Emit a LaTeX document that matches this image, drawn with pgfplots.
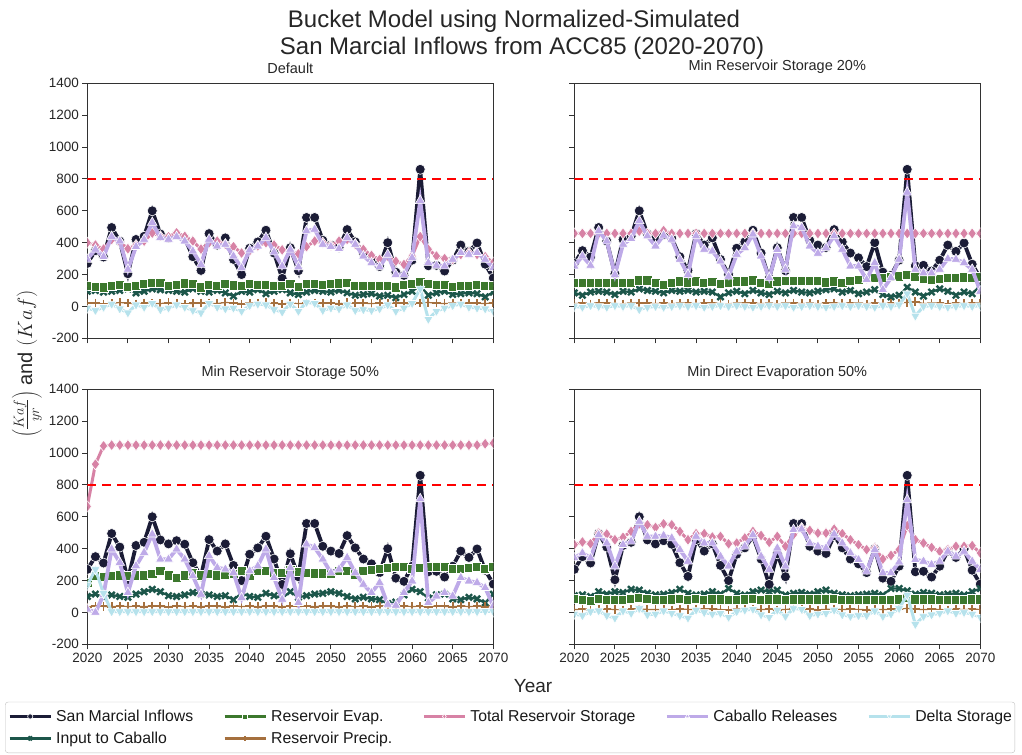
\documentclass[border=0pt]{standalone}
\usepackage{fontspec}
\setmainfont{Liberation Sans}
\usepackage{pgfplots}
\usepackage{pgfplotstable}
\pgfplotsset{compat=1.18}

\definecolor{smi}{RGB}{27,28,54}
\definecolor{icc}{RGB}{28,86,74}
\definecolor{rec}{RGB}{60,120,45}
\definecolor{rpc}{RGB}{165,112,62}
\definecolor{trsc}{RGB}{215,130,165}
\definecolor{crc}{RGB}{190,170,232}
\definecolor{dsc}{RGB}{182,226,236}
\definecolor{axgray}{RGB}{50,50,50}

\pgfplotstableread{
yr smi ic re rp trs cr ds
2020 270 95 130 20 400 295 -10
2021 350 100 125 22 385 358 -25
2022 310 90 120 15 360 312 -5
2023 495 95 128 18 420 438 15
2024 410 100 135 25 405 410 -15
2025 205 110 122 20 362 232 -40
2026 420 85 128 17 385 375 10
2027 440 95 140 22 410 420 -5
2028 600 110 150 20 460 526 20
2029 455 105 148 18 440 432 -20
2030 430 100 130 24 438 421 -10
2031 450 95 135 21 462 438 10
2032 428 90 145 16 440 410 -5
2033 312 110 140 19 410 347 -25
2034 226 95 120 23 360 263 -40
2035 457 90 135 20 400 421 20
2036 385 100 130 18 410 379 -5
2037 430 85 140 25 390 389 -15
2038 295 65 132 22 375 316 -10
2039 200 95 128 17 335 242 -30
2040 365 90 140 19 350 354 5
2041 405 105 135 21 380 379 15
2042 478 80 138 24 400 432 10
2043 335 95 130 20 385 341 -20
2044 176 105 130 16 355 253 -35
2045 368 85 140 22 350 358 15
2046 224 75 125 18 330 248 -30
2047 558 90 140 20 375 474 25
2048 558 100 140 23 410 484 20
2049 415 95 138 19 400 389 -25
2050 385 90 140 21 383 375 -10
2051 370 100 145 17 410 362 -15
2052 482 85 150 24 421 432 10
2053 405 70 130 22 390 389 -25
2054 335 75 130 20 358 316 -20
2055 305 80 130 18 320 274 -25
2056 250 65 128 21 295 248 -15
2057 400 70 130 19 316 326 10
2058 215 55 120 23 284 200 -30
2059 195 75 135 20 263 200 -10
2060 290 95 140 17 316 305 20
2061 860 130 155 22 438 663 110
2062 255 70 140 25 358 274 -80
2063 258 85 135 20 316 257 -30
2064 222 95 135 18 300 253 -10
2065 290 75 125 21 295 295 5
2066 385 80 128 19 326 337 15
2067 345 85 130 23 337 326 -5
2068 398 80 135 20 326 337 -10
2069 265 60 130 18 312 295 -15
2070 178 90 130 22 274 242 -30
}\tabdef

\pgfplotstableread{
yr smi ic re rp trs cr ds
2020 270 85 147 18 458 253 0
2021 350 70 147 20 458 316 -5
2022 310 90 147 16 458 257 5
2023 495 95 147 19 458 474 0
2024 410 90 147 21 458 410 -5
2025 205 75 147 18 458 200 5
2026 420 95 147 17 458 390 0
2027 440 90 147 20 458 425 5
2028 600 110 164 22 472 537 -20
2029 455 100 164 19 458 442 -5
2030 430 95 147 18 458 379 0
2031 450 85 137 20 476 446 -5
2032 428 100 147 17 458 421 0
2033 312 95 158 21 458 295 5
2034 226 100 152 19 458 200 0
2035 457 90 158 18 458 442 5
2036 385 95 147 20 458 358 -5
2037 430 90 154 22 458 347 0
2038 295 60 143 18 458 284 5
2039 200 85 147 17 458 189 0
2040 365 95 158 20 458 326 5
2041 405 80 158 19 458 368 0
2042 478 100 164 21 458 453 -5
2043 335 85 147 18 458 316 0
2044 176 75 143 20 458 179 5
2045 368 95 158 17 458 356 0
2046 224 85 162 19 458 232 5
2047 558 100 162 21 458 505 -5
2048 558 90 162 18 458 495 0
2049 415 85 162 20 458 379 5
2050 385 95 162 17 458 333 0
2051 370 105 152 19 458 368 -5
2052 482 110 158 22 458 442 0
2053 405 90 147 18 458 358 5
2054 335 100 162 20 458 253 0
2055 305 80 168 19 458 253 5
2056 250 90 179 17 458 168 0
2057 400 105 179 21 458 274 -5
2058 215 75 179 18 458 105 5
2059 195 60 185 20 458 179 0
2060 290 70 189 22 458 295 10
2061 860 120 200 25 458 716 80
2062 255 90 185 30 458 232 -60
2063 258 65 173 18 458 210 0
2064 222 90 168 20 458 210 5
2065 290 110 173 19 458 232 0
2066 385 95 179 17 458 299 -5
2067 345 70 179 21 458 295 0
2068 398 90 183 18 458 274 5
2069 265 80 179 20 458 232 0
2070 178 130 185 19 458 95 5
}\tabtwenty

\pgfplotstableread{
yr smi ic re rp trs cr ds
2020 270 100 187 35 665 20 170
2021 350 115 229 40 930 0 270
2022 310 95 225 38 1045 110 120
2023 495 110 229 36 1050 397 5
2024 410 100 233 40 1050 313 5
2025 205 95 229 37 1050 124 5
2026 420 115 233 39 1050 292 5
2027 440 130 233 36 1050 376 5
2028 600 145 244 41 1050 491 5
2029 455 130 260 38 1050 334 5
2030 430 105 233 36 1050 334 5
2031 450 100 218 40 1050 397 5
2032 428 110 233 37 1050 334 5
2033 312 125 250 39 1050 229 5
2034 226 115 233 36 1050 113 5
2035 457 110 244 41 1050 355 5
2036 385 100 233 38 1050 281 5
2037 430 105 236 36 1050 271 5
2038 295 80 244 40 1050 250 5
2039 200 120 260 37 1050 92 5
2040 365 100 233 39 1050 260 5
2041 405 95 260 36 1050 292 5
2042 478 120 260 41 1050 397 5
2043 335 105 250 38 1050 218 5
2044 176 90 250 36 1050 82 5
2045 368 130 265 40 1050 281 5
2046 224 95 254 37 1050 61 5
2047 558 105 250 39 1050 428 5
2048 558 115 246 36 1050 407 5
2049 415 120 246 41 1050 334 5
2050 385 130 246 38 1050 250 5
2051 370 120 260 36 1050 271 5
2052 482 100 260 40 1050 344 5
2053 405 85 239 37 1050 250 5
2054 335 95 260 39 1050 176 5
2055 305 85 267 36 1050 124 5
2056 250 80 275 41 1050 187 5
2057 400 55 281 38 1050 50 5
2058 215 65 286 36 1050 44 5
2059 195 110 286 40 1050 124 5
2060 290 145 275 37 1050 197 5
2061 860 130 279 39 1050 712 5
2062 255 90 286 36 1050 61 5
2063 258 110 286 41 1050 103 5
2064 222 115 286 38 1050 124 5
2065 290 85 275 36 1050 103 5
2066 385 80 275 40 1050 218 5
2067 345 95 281 37 1050 197 5
2068 398 85 286 39 1050 187 5
2069 265 60 275 36 1058 155 8
2070 178 115 288 41 1062 40 5
}\tabfifty

\pgfplotstableread{
yr smi ic re rp trs cr ds
2020 270 105 85 18 425 342 -10
2021 350 110 80 20 442 373 -20
2022 310 100 75 16 431 342 5
2023 495 130 85 19 498 487 10
2024 410 115 80 21 492 435 -20
2025 205 130 80 18 456 290 -35
2026 420 125 80 17 471 425 10
2027 440 145 85 20 508 446 -5
2028 600 140 90 22 556 571 25
2029 455 120 85 19 550 477 -15
2030 430 110 80 18 533 477 -10
2031 450 115 80 20 556 483 10
2032 428 125 82 17 550 467 -5
2033 312 145 85 21 508 394 -20
2034 226 120 78 19 456 321 -35
2035 457 110 85 18 494 477 15
2036 385 115 80 20 494 435 0
2037 430 130 82 22 473 435 -10
2038 295 115 82 18 477 352 -5
2039 200 150 80 17 431 290 -30
2040 365 120 78 20 435 383 5
2041 405 110 82 19 467 415 15
2042 478 130 85 21 508 487 20
2043 335 140 80 18 483 352 -15
2044 176 130 82 20 440 269 -30
2045 368 140 82 17 477 404 15
2046 224 110 80 19 415 290 -25
2047 558 120 82 21 488 519 25
2048 558 125 82 18 529 523 20
2049 415 115 82 20 515 435 -20
2050 385 130 82 17 498 415 -10
2051 370 140 82 19 498 404 -5
2052 482 120 85 22 523 492 15
2053 405 110 80 18 494 435 -15
2054 335 105 78 20 456 373 -25
2055 305 110 78 19 425 331 -20
2056 250 115 78 17 394 258 -20
2057 400 120 80 21 404 394 10
2058 215 110 78 18 335 248 -25
2059 195 150 80 20 358 248 -10
2060 290 150 82 22 394 315 25
2061 860 135 90 25 544 706 110
2062 255 115 82 20 456 331 -75
2063 258 125 82 18 435 321 -25
2064 222 120 82 20 408 300 -15
2065 290 110 78 19 383 321 -5
2066 385 115 80 17 394 383 10
2067 345 120 80 21 415 352 -5
2068 398 110 80 18 415 383 0
2069 265 130 82 20 419 321 -10
2070 178 150 82 19 373 269 -30
}\tabde

\pgfplotsset{
  smistyle/.style={smi, line width=3.8bp, mark=*, mark size=5bp,
    mark options={solid, draw=white, fill=smi, line width=0.6bp}},
  icstyle/.style={icc, line width=2.2bp, mark=x, mark size=4.4bp,
    mark options={solid, line width=2.4bp}},
  restyle/.style={rec, line width=2.2bp, mark=square*, mark size=4.6bp,
    mark options={solid, draw=white, fill=rec, line width=0.6bp}},
  rpstyle/.style={rpc, line width=1.2bp, mark=+, mark size=4.2bp,
    mark options={solid, line width=1.8bp}},
  trsstyle/.style={trsc, line width=3bp, mark=diamond*, mark size=5.6bp,
    mark options={solid, draw=white, fill=trsc, line width=0.6bp}},
  crstyle/.style={crc, line width=3.8bp, mark=triangle*, mark size=5.6bp,
    mark options={solid, draw=white, fill=crc, line width=0.6bp}},
  dsstyle/.style={dsc, line width=3bp, mark=triangle*, mark size=5.4bp,
    mark options={solid, draw=white, fill=dsc, line width=0.6bp, rotate=180}},
  panel/.style={
    width=406bp, height=255bp, scale only axis,
    anchor=north west,
    xmin=2020, xmax=2070, ymin=-200, ymax=1400,
    xtick={2020,2025,...,2070}, ytick={-200,0,...,1400},
    tick align=outside, tick pos=left,
    major tick length=5bp,
    every tick/.style={line width=1bp, axgray},
    axis line style={line width=1.1bp, axgray},
    ticklabel style={font=\fontsize{13.5bp}{15bp}\selectfont, text=black!85},
    /pgf/number format/assume math mode=true,
    /pgf/number format/1000 sep={},
    title style={font=\fontsize{14.5bp}{17bp}\selectfont, text=black!85},
    clip marker paths=true,
    legend image code/.code={%
      \draw[mark repeat=2,mark phase=2, mark size=2.6bp, line width=3bp] plot coordinates {(0bp,0bp) (20.5bp,0bp) (41bp,0bp)};},
  },
}

\newcommand{\panelplots}[1]{%
  \addplot[smistyle, forget plot] table[x=yr,y=smi]{#1};
  \addplot[icstyle, forget plot] table[x=yr,y=ic]{#1};
  \addplot[restyle, forget plot] table[x=yr,y=re]{#1};
  \addplot[rpstyle, forget plot] table[x=yr,y=rp]{#1};
  \addplot[trsstyle, forget plot] table[x=yr,y=trs]{#1};
  \addplot[crstyle, forget plot] table[x=yr,y=cr]{#1};
  \addplot[dsstyle, forget plot] table[x=yr,y=ds]{#1};
  \addplot[red, line width=2.4bp, dash pattern=on 9bp off 6bp, forget plot] coordinates {(2020,800) (2070,800)};
}

\begin{document}
\begin{tikzpicture}
\useasboundingbox (0bp,0bp) rectangle (1022bp,-755bp);

\begin{axis}[panel, at={(87.3bp,-83.3bp)}, title={Default}, xticklabels={}]
\panelplots{\tabdef}
\end{axis}

\begin{axis}[panel, at={(574.3bp,-83.3bp)}, title={Min Reservoir Storage 20\%}, xticklabels={}, yticklabels={}]
\panelplots{\tabtwenty}
\end{axis}

\begin{axis}[panel, at={(87.3bp,-389.3bp)}, title={Min Reservoir Storage 50\%},
  legend columns=5,
  legend style={at={(-0.2027,-0.2254)}, anchor=north west,
    draw=black!25, rounded corners=3bp, fill=white,
    font=\fontsize{15.8bp}{18bp}\selectfont, text=black!90,
    nodes={inner xsep=0bp},
    inner xsep=3bp, inner ysep=6bp, row sep=5bp,
    /tikz/every odd column/.append style={column sep=4bp},
    /tikz/every even column/.append style={column sep=30bp},
    /tikz/column 10/.append style={column sep=0bp},
    cells={anchor=west}},
]
\addlegendimage{smistyle}\addlegendentry{San Marcial Inflows}
\addlegendimage{restyle}\addlegendentry{Reservoir Evap.}
\addlegendimage{trsstyle}\addlegendentry{Total Reservoir Storage}
\addlegendimage{crstyle}\addlegendentry{Caballo Releases}
\addlegendimage{dsstyle}\addlegendentry{Delta Storage}
\addlegendimage{icstyle}\addlegendentry{Input to Caballo}
\addlegendimage{rpstyle}\addlegendentry{Reservoir Precip.}
\panelplots{\tabfifty}
\end{axis}

\begin{axis}[panel, at={(574.3bp,-389.3bp)}, title={Min Direct Evaporation 50\%}, yticklabels={}]
\panelplots{\tabde}
\end{axis}

\node[anchor=base, font=\fontsize{24bp}{28bp}\selectfont, text=black!85] at (514bp,-27bp) {Bucket Model using Normalized-Simulated};
\node[anchor=base, font=\fontsize{24bp}{28bp}\selectfont, text=black!85] at (522bp,-54bp) {San Marcial Inflows from ACC85 (2020-2070)};
\node[font=\fontsize{19bp}{22bp}\selectfont, text=black!85] at (533bp,-686bp) {Year};
\node[rotate=90, font=\fontsize{20bp}{24bp}\selectfont, text=black!85] at (27bp,-364bp) {$\left(\frac{Kaf}{yr}\right)$ and $(Kaf)$};
\end{tikzpicture}
\end{document}
